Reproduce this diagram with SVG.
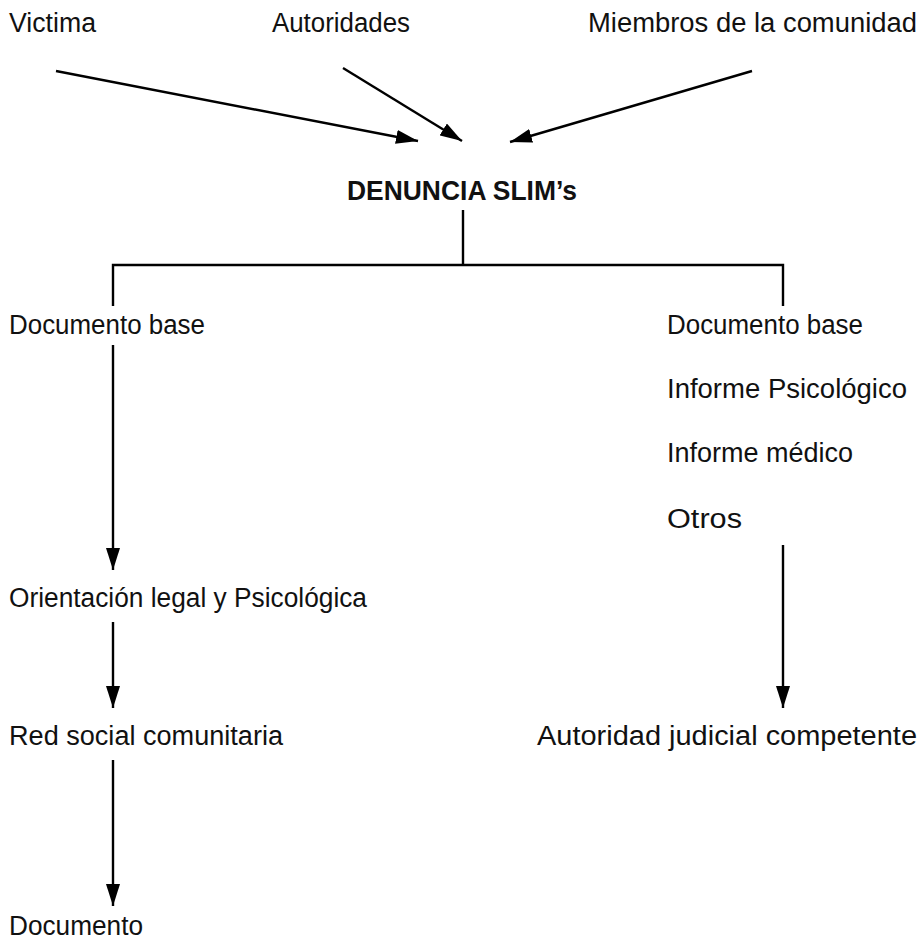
<svg xmlns="http://www.w3.org/2000/svg" width="921" height="942" viewBox="0 0 921 942">
<style>
text{font-family:"Liberation Sans","Open Sans",sans-serif;font-size:27px;fill:#111}
.b{font-weight:bold}
.ln{stroke:#000;stroke-width:2.4;fill:none}
</style>
<defs>
<marker id="ah" viewBox="0 0 22 14" refX="22" refY="7" markerWidth="22" markerHeight="14" markerUnits="userSpaceOnUse" orient="auto">
<path d="M0,0 L22,7 L0,14 Z" fill="#000"/>
</marker>
</defs>
<rect width="921" height="942" fill="#fff"/>
<g id="connectors">
<line class="ln" x1="56" y1="71" x2="418" y2="141" marker-end="url(#ah)"/>
<line class="ln" x1="343" y1="68" x2="462" y2="141" marker-end="url(#ah)"/>
<line class="ln" x1="752" y1="71" x2="510" y2="142" marker-end="url(#ah)"/>
<path class="ln" d="M463,210 V265 M113,306 V265 H783 V306"/>
<line class="ln" x1="113" y1="345" x2="113" y2="570" marker-end="url(#ah)"/>
<line class="ln" x1="113" y1="622" x2="113" y2="708" marker-end="url(#ah)"/>
<line class="ln" x1="113" y1="760" x2="113" y2="906" marker-end="url(#ah)"/>
<line class="ln" x1="783" y1="545" x2="783" y2="708" marker-end="url(#ah)"/>
</g>
<g id="n-victima"><text x="9" y="32" textLength="87" lengthAdjust="spacingAndGlyphs">Victima</text></g>
<g id="n-autoridades"><text x="272" y="32" textLength="138" lengthAdjust="spacingAndGlyphs">Autoridades</text></g>
<g id="n-miembros"><text x="588" y="32" textLength="329" lengthAdjust="spacingAndGlyphs">Miembros de la comunidad</text></g>
<g id="n-denuncia"><text class="b" x="347" y="200" textLength="230" lengthAdjust="spacingAndGlyphs">DENUNCIA SLIM’s</text></g>
<g id="n-docbase-l"><text x="9" y="334" textLength="196" lengthAdjust="spacingAndGlyphs">Documento base</text></g>
<g id="n-docs-r">
<text x="667" y="334" textLength="196" lengthAdjust="spacingAndGlyphs">Documento base</text>
<text x="667" y="398" textLength="240" lengthAdjust="spacingAndGlyphs">Informe Psicológico</text>
<text x="667" y="462" textLength="186" lengthAdjust="spacingAndGlyphs">Informe médico</text>
<text x="667" y="528" textLength="75" lengthAdjust="spacingAndGlyphs">Otros</text>
</g>
<g id="n-orientacion"><text x="9" y="607" textLength="358" lengthAdjust="spacingAndGlyphs">Orientación legal y Psicológica</text></g>
<g id="n-red"><text x="9" y="745" textLength="274" lengthAdjust="spacingAndGlyphs">Red social comunitaria</text></g>
<g id="n-autoridad"><text x="537" y="745" textLength="380" lengthAdjust="spacingAndGlyphs">Autoridad judicial competente</text></g>
<g id="n-documento"><text x="9" y="935" textLength="134" lengthAdjust="spacingAndGlyphs">Documento</text></g>
</svg>
